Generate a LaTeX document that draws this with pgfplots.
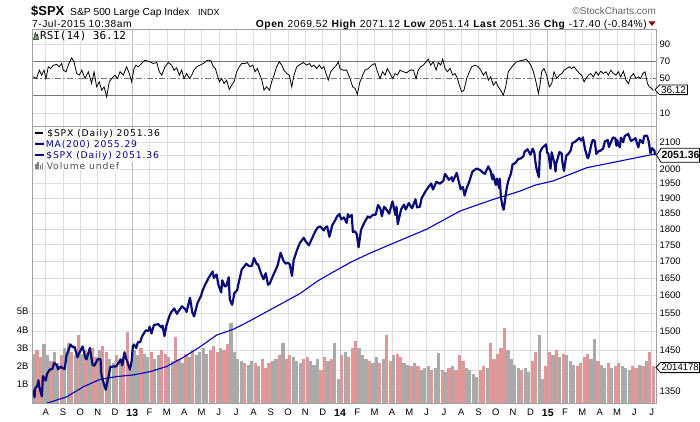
\documentclass[border=0pt]{standalone}
\usepackage{fontspec}
\setmainfont{Liberation Sans}
\newfontfamily\hdrfont[LetterSpace=5]{Liberation Sans}
\newfontfamily\legfont[LetterSpace=9]{DejaVu Sans}
\newfontfamily\monofont{DejaVu Sans Mono}
\usepackage{pgfplots}
\pgfplotsset{compat=1.18}

\definecolor{navyline}{RGB}{12,12,120}
\definecolor{mablue}{RGB}{0,0,190}
\definecolor{volgray}{RGB}{170,170,170}
\definecolor{volpink}{RGB}{222,152,152}
\definecolor{gridgray}{RGB}{222,222,222}
\definecolor{yeargray}{RGB}{190,190,190}
\definecolor{framegray}{RGB}{160,160,160}
\definecolor{refline}{RGB}{120,120,120}
\definecolor{chgred}{RGB}{150,0,20}
\definecolor{iconGreen}{RGB}{110,170,110}
\definecolor{legnavy}{RGB}{0,0,140}

\pgfplotsset{
  base/.style={scale only axis, width=624bp, xmin=-5.794, xmax=30.254,
    anchor=south west, axis line style={draw=framegray, line width=0.8bp},
    major tick length=0pt, tick label style={font=\fontsize{9.5}{10}\selectfont, text=black}},
  months/.style={xtick={-5,...,30},
    xticklabels={A,S,O,N,D,\textbf{\fontsize{10.5}{11}\selectfont 13},F,M,A,M,J,J,A,S,O,N,D,\textbf{\fontsize{10.5}{11}\selectfont 14},F,M,A,M,J,J,A,S,O,N,D,\textbf{\fontsize{10.5}{11}\selectfont 15},F,M,A,M,J,J},
    extra x ticks={0,12,24}, extra x tick labels={},
    extra x tick style={grid=major, major grid style={draw=yeargray, line width=0.9bp}}},
}

\begin{document}
\begin{tikzpicture}[x=1bp,y=1bp]
\useasboundingbox (0,0) rectangle (700,421);

% price panel: grid and right labels
\begin{axis}[base, months, at={(32bp,18bp)}, height=277bp, ymode=log, ymin=1321.6, ymax=2160.5,
  ytick={1350,1400,1450,1500,1550,1600,1650,1700,1750,1800,1850,1900,1950,2000,2050,2100},
  yticklabels={1350,,1450,1500,1550,1600,1650,1700,1750,1800,1850,1900,1950,2000,,2100},
  yticklabel pos=right, grid=major, major grid style={draw=gridgray, line width=0.6bp},
  xticklabel style={yshift=-2.5bp}]
\addplot[draw=none] coordinates {(0,1500)};
\end{axis}

% volume
\begin{axis}[base, at={(32bp,18bp)}, height=277bp, ymin=0, ymax=15.14,
  axis line style={draw=none}, xtick=\empty, ytick={1,2,3,4,5},
  yticklabels={1B,2B,3B,4B,5B}, yticklabel pos=left]
\addplot[ycomb, draw=volgray, line width=3.2bp] coordinates {
(-5.7,2.7) (-5.1,3.2) (-4.9,2.6) (-4.5,2.8) (-4.3,2.2) (-3.9,3.0) (-3.7,3.3) (-3.3,2.6) (-2.9,2.7) (-2.5,2.6)
(-1.9,2.9) (-1.3,2.4) (-1.1,2.2) (-0.7,2.3) (-0.1,1.8) (0.1,2.9) (0.3,2.6) (0.7,2.7) (0.9,2.5) (1.3,2.4)
(1.5,2.6) (2.1,2.5) (2.3,2.3) (2.7,2.4) (2.9,2.2) (3.3,2.5) (3.7,2.6) (3.9,2.8) (4.1,3.0) (4.3,2.7)
(5.1,3.0) (5.7,4.35) (5.9,2.8) (6.1,2.4) (6.3,2.3) (6.7,2.1) (6.9,2.3) (7.3,2.0) (8.1,2.3) (8.3,2.4)
(8.7,3.3) (9.3,2.5) (9.5,2.3) (9.7,2.2) (10.3,2.3) (10.5,2.1) (10.7,2.4) (11.3,2.3) (11.7,3.3) (11.9,1.3)
(12.3,2.8) (13.1,3.0) (13.3,2.6) (13.5,2.4) (13.9,2.2) (14.1,2.5) (14.5,2.4) (15.1,2.6) (15.7,2.2) (15.9,2.1)
(16.3,2.2) (16.7,1.8) (16.9,1.9) (17.1,2.0) (17.5,1.9) (17.7,2.75) (18.1,1.7) (18.5,2.0) (19.3,1.9) (19.5,1.8)
(19.7,1.6) (19.9,1.4) (20.5,1.9) (21.7,2.9) (21.9,2.4) (22.1,2.1) (22.3,1.9) (22.7,1.9) (22.9,1.7) (23.5,3.7)
(23.7,1.3) (24.3,2.6) (24.7,2.5) (25.1,2.6) (25.3,2.3) (25.5,2.1) (26.5,2.4) (26.7,3.5) (27.1,2.1) (27.3,1.9)
(27.7,1.9) (28.3,2.0) (28.5,1.9) (28.7,1.8) (29.3,2.1) (29.7,2.3)};
\addplot[ycomb, draw=volpink, line width=3.2bp] coordinates {
(-5.5,2.9) (-5.3,2.5) (-4.7,2.3) (-4.1,2.6) (-3.5,2.8) (-3.1,3.7) (-2.7,2.9) (-2.3,3.0) (-2.1,2.5) (-1.7,3.1)
(-1.5,2.8) (-0.9,2.6) (-0.5,2.5) (-0.3,3.9) (0.5,3.0) (1.1,2.8) (1.7,2.9) (1.9,2.7) (2.5,3.6) (3.1,2.7)
(3.5,2.9) (4.5,2.9) (4.7,3.1) (4.9,2.8) (5.3,2.9) (5.5,3.2) (6.5,2.2) (7.1,2.2) (7.5,2.4) (7.7,1.9)
(7.9,2.2) (8.5,2.6) (8.9,2.4) (9.1,2.6) (9.9,2.4) (10.1,2.5) (10.9,1.8) (11.1,2.5) (11.5,2.4) (12.1,2.6)
(12.5,2.5) (12.7,3.0) (12.9,3.4) (13.7,2.3) (14.3,2.2) (14.7,3.7) (14.9,2.3) (15.3,2.7) (15.5,2.5) (16.1,2.0)
(16.5,2.0) (17.3,1.8) (17.9,1.8) (18.3,1.9) (18.7,1.8) (18.9,2.6) (19.1,2.3) (20.1,1.8) (20.3,2.0) (20.7,3.3)
(20.9,2.4) (21.1,2.7) (21.3,3.0) (21.5,4.1) (22.5,1.8) (23.1,2.3) (23.3,2.8) (23.9,2.0) (24.1,2.8) (24.5,2.9)
(24.9,2.7) (25.7,2.0) (25.9,2.2) (26.1,2.5) (26.3,2.7) (26.9,2.3) (27.5,2.2) (27.9,2.0) (28.1,2.2) (28.9,2.0)
(29.1,1.9) (29.5,2.0) (29.9,2.8) (30.1,2.0)};
\end{axis}

% price and moving average
\begin{axis}[base, at={(32bp,18bp)}, height=277bp, ymode=log, ymin=1321.6, ymax=2160.5, hide axis]
\addplot[mablue, line width=1.1bp] coordinates {
(-5.0,1318) (-4.945,1321) (-3.79,1336) (-2.83,1360) (-1.87,1378) (-0.90,1385) (0.06,1389) (1.02,1397)
(1.99,1410) (2.95,1433) (3.91,1460) (4.88,1491) (5.83,1506) (6.80,1529) (7.76,1554) (8.72,1579)
(9.69,1605) (10.65,1639) (11.32,1659) (12.67,1698) (13.73,1724) (14.70,1746) (17.01,1799) (18.93,1858)
(20.86,1897) (21.82,1914) (22.40,1925) (23.26,1945) (24.32,1960) (26.25,2006) (28.17,2030) (29.91,2052)
(30.194,2055.29)};
\addplot[navyline, line width=2.2bp, line join=round] coordinates {
(-5.742,1352) (-5.645,1335) (-5.613,1356) (-5.484,1363) (-5.419,1376) (-5.387,1362) (-5.226,1337) (-5.161,1386)
(-5.0,1375) (-4.935,1391) (-4.774,1402) (-4.613,1404) (-4.516,1419) (-4.355,1413) (-4.290,1403) (-4.129,1410)
(-4.032,1406) (-3.9,1404) (-3.8,1438) (-3.567,1466) (-3.433,1459) (-3.333,1460) (-3.167,1433) (-3.1,1441)
(-2.871,1461) (-2.71,1432) (-2.645,1428) (-2.452,1457) (-2.29,1413) (-2.194,1412) (-2.0,1428) (-1.833,1428)
(-1.8,1395) (-1.733,1380) (-1.533,1353) (-1.367,1387) (-1.267,1409) (-1.1,1410) (-0.935,1410) (-0.806,1418)
(-0.677,1428) (-0.581,1413) (-0.452,1446) (-0.355,1430) (-0.129,1402) (-0.032,1426)
(0.032,1462) (0.097,1466) (0.226,1457) (0.323,1472) (0.452,1472) (0.548,1486) (0.774,1503) (0.935,1502)
(1.0,1513) (1.107,1495) (1.25,1518) (1.5,1520) (1.679,1511) (1.75,1516) (1.857,1488) (1.964,1515)
(2.129,1540) (2.226,1551) (2.419,1563) (2.581,1548) (2.677,1556) (2.871,1569) (3.1,1559) (3.133,1553)
(3.333,1593) (3.467,1552) (3.567,1541) (3.767,1578) (3.967,1598) (4.065,1614) (4.226,1632) (4.419,1651)
(4.645,1669) (4.710,1650) (4.871,1660) (4.968,1631) (5.133,1608) (5.2,1643) (5.333,1626) (5.433,1626)
(5.567,1652) (5.633,1588) (5.767,1573) (5.9,1606) (6.065,1615) (6.129,1632) (6.323,1675) (6.452,1683)
(6.581,1692) (6.742,1685) (6.903,1685) (7.032,1709) (7.194,1690) (7.258,1691) (7.452,1661) (7.581,1646)
(7.710,1664) (7.839,1630) (7.935,1633) (8.1,1653) (8.267,1672) (8.4,1688) (8.567,1725) (8.733,1701)
(8.867,1692) (9.0,1695) (9.097,1690) (9.226,1656) (9.323,1703) (9.516,1734) (9.677,1755) (9.903,1772)
(10.0,1762) (10.2,1748) (10.367,1768) (10.567,1792) (10.7,1804) (10.867,1808) (11.065,1795) (11.161,1805)
(11.258,1808) (11.387,1775) (11.548,1811) (11.710,1827) (11.839,1841) (11.968,1848)
(12.065,1831) (12.226,1837) (12.387,1819) (12.452,1848) (12.516,1838) (12.677,1845) (12.742,1790) (12.871,1792)
(12.968,1783) (13.071,1742) (13.214,1797) (13.393,1819) (13.607,1840) (13.714,1836) (13.893,1845) (14.065,1846)
(14.194,1878) (14.323,1867) (14.419,1841) (14.548,1872) (14.645,1866) (14.839,1849) (15.033,1890) (15.2,1845)
(15.267,1872) (15.333,1815) (15.533,1864) (15.7,1879) (15.8,1863) (15.967,1884) (16.161,1867) (16.355,1897)
(16.452,1870) (16.613,1872) (16.71,1900) (16.935,1924) (17.133,1941) (17.267,1951) (17.367,1930) (17.567,1957)
(17.767,1950) (17.967,1960) (18.065,1985) (18.29,1964) (18.452,1973) (18.516,1958) (18.742,1988) (18.968,1931)
(19.097,1939) (19.194,1910) (19.323,1936) (19.452,1955) (19.645,1992) (19.806,2000) (19.903,2003) (20.1,1998)
(20.267,1988) (20.367,1985) (20.567,2011) (20.7,1994) (20.8,1966) (20.833,1983) (21.0,1946) (21.065,1968)
(21.194,1935) (21.226,1968) (21.29,1906) (21.387,1874) (21.452,1862) (21.516,1887) (21.645,1941) (21.742,1964)
(21.871,1985) (21.968,2018) (22.133,2023) (22.3,2038) (22.433,2039) (22.6,2048) (22.667,2064) (22.833,2073)
(23.0,2053) (23.129,2075) (23.226,2060) (23.29,2026) (23.355,2002) (23.484,1973) (23.516,2012) (23.548,2061)
(23.677,2078) (23.903,2091) (23.968,2059)
(24.032,2058) (24.161,2003) (24.226,2062) (24.387,2023) (24.452,1993) (24.484,2019) (24.677,2063) (24.806,2057)
(24.839,2029) (24.935,1995) (25.071,2050) (25.179,2055) (25.321,2068) (25.429,2097) (25.571,2100) (25.821,2115)
(25.929,2105) (26.032,2117) (26.161,2071) (26.29,2044) (26.323,2040) (26.387,2053) (26.548,2099) (26.613,2108)
(26.710,2104) (26.806,2056) (26.968,2068) (27.033,2067) (27.2,2076) (27.3,2102) (27.467,2107) (27.533,2081)
(27.767,2117) (27.9,2114) (27.967,2086) (28.0,2108) (28.161,2080) (28.226,2116) (28.355,2099) (28.452,2123)
(28.581,2127) (28.645,2131) (28.806,2104) (28.903,2107) (29.067,2114) (29.233,2080) (29.333,2108) (29.5,2096)
(29.567,2122) (29.733,2124) (29.833,2102) (29.933,2058) (30.032,2077) (30.161,2068) (30.194,2051.36)};
\end{axis}

% RSI panel
\begin{axis}[base, months, at={(32bp,295bp)}, height=96.3bp, ymin=-5.2, ymax=106.7,
  xticklabels={}, ytick={10,30,50,70,90}, yticklabels={10,,50,70,90}, yticklabel pos=right,
  xmajorgrids, major grid style={draw=gridgray, line width=0.6bp}]
\addplot[gridgray, line width=0.6bp] coordinates {(-5.794,10) (30.254,10)};
\addplot[gridgray, line width=0.6bp] coordinates {(-5.794,90) (30.254,90)};
\addplot[refline, line width=0.9bp] coordinates {(-5.794,70) (30.254,70)};
\addplot[refline, line width=0.9bp] coordinates {(-5.794,30) (30.254,30)};
\addplot[refline, line width=0.7bp, dash pattern=on 6bp off 2bp on 1.5bp off 2bp] coordinates {(-5.794,50) (30.254,50)};
\addplot[black, line width=0.8bp] coordinates {
(-5.72,51.9) (-5.53,50.0) (-5.37,59.7) (-5.24,53.9) (-5.10,59.7) (-4.99,50.0) (-4.85,63.6) (-4.72,61.6)
(-4.56,65.5) (-4.37,66.3) (-4.22,63.6) (-4.08,67.4) (-3.99,59.7) (-3.83,57.8) (-3.70,65.5) (-3.50,74.0)
(-3.37,69.4) (-3.21,55.8) (-3.06,53.9) (-2.92,59.7) (-2.73,50.0) (-2.54,57.8) (-2.35,44.2) (-2.21,57.8)
(-2.06,40.3) (-1.91,46.1) (-1.77,36.4) (-1.63,40.3) (-1.48,28.7) (-1.33,46.1) (-1.19,50.0) (-1.00,53.9)
(-0.86,50.0) (-0.71,57.8) (-0.52,53.9) (-0.33,63.6) (-0.17,55.8) (-0.04,46.1) (0.10,61.6) (0.21,65.5)
(0.35,63.6) (0.54,67.4) (0.73,71.3) (0.87,70.2) (1.02,69.4) (1.21,67.4) (1.41,68.6) (1.56,57.8)
(1.70,53.9) (1.89,63.6) (2.08,68.6) (2.27,65.5) (2.41,59.7) (2.56,62.4) (2.72,53.9) (2.85,59.7)
(2.99,50.0) (3.14,55.8) (3.30,50.0) (3.43,53.9) (3.56,59.7) (3.72,63.6) (3.91,65.5) (4.10,67.4)
(4.26,70.2) (4.39,71.3) (4.55,70.5) (4.68,63.6) (4.80,61.6) (4.91,53.9) (5.03,46.1) (5.16,50.0)
(5.30,44.2) (5.45,48.1) (5.60,37.2) (5.74,42.2) (5.88,46.1) (6.03,57.8) (6.18,63.6) (6.32,67.4)
(6.51,67.4) (6.65,68.6) (6.80,63.6) (6.96,65.5) (7.09,57.8) (7.22,61.6) (7.38,53.9) (7.51,46.1)
(7.61,36.4) (7.76,40.3) (7.92,36.4) (8.05,46.1) (8.19,53.9) (8.34,63.6) (8.49,69.4) (8.63,65.5)
(8.76,59.7) (8.92,55.8) (9.07,53.9) (9.21,40.3) (9.34,53.9) (9.50,63.6) (9.69,66.3) (9.88,68.6)
(10.07,65.5) (10.23,67.4) (10.36,63.6) (10.50,65.5) (10.65,61.6) (10.81,65.5) (10.94,61.6) (11.07,63.6)
(11.19,55.8) (11.32,48.1) (11.46,57.8) (11.61,61.6) (11.77,64.7) (11.90,69.4)
(12.00,61.6) (12.19,59.7) (12.38,59.7) (12.58,50.0) (12.73,40.3) (12.87,38.4) (13.00,31.4) (13.15,46.1)
(13.31,53.9) (13.44,59.7) (13.64,61.6) (13.83,65.5) (14.02,67.4) (14.16,57.8) (14.31,50.0) (14.46,57.8)
(14.60,53.9) (14.73,61.6) (14.89,55.8) (15.04,50.0) (15.18,55.8) (15.31,53.9) (15.47,59.7) (15.66,57.8)
(15.85,56.6) (16.04,59.7) (16.24,59.7) (16.39,50.0) (16.52,59.7) (16.66,63.6) (16.81,65.5) (16.97,69.4)
(17.10,72.5) (17.24,65.5) (17.39,69.4) (17.55,59.7) (17.68,68.6) (17.82,65.5) (17.93,72.5) (18.07,61.6)
(18.20,57.8) (18.36,61.6) (18.51,53.9) (18.64,55.8) (18.78,50.0) (18.89,42.2) (19.03,34.5) (19.16,36.4)
(19.32,50.0) (19.47,57.8) (19.61,63.6) (19.80,65.5) (19.99,63.6) (20.13,59.7) (20.28,53.9) (20.43,57.8)
(20.57,48.1) (20.70,51.9) (20.86,42.2) (21.01,46.1) (21.14,40.3) (21.28,36.4) (21.43,30.6) (21.57,40.3)
(21.72,57.8) (21.86,61.6) (22.01,65.5) (22.20,69.4) (22.40,70.5) (22.59,71.3) (22.75,72.5) (22.88,69.4)
(23.02,65.5) (23.17,57.8) (23.32,46.1) (23.46,32.6) (23.55,42.2) (23.65,57.8) (23.78,61.6) (23.94,53.9)
(24.09,40.3) (24.23,44.2) (24.36,57.8) (24.52,50.0) (24.67,53.9) (24.81,55.8) (24.94,59.7) (25.09,61.6)
(25.25,63.6) (25.38,61.6) (25.52,63.6) (25.67,59.7) (25.83,55.8) (25.96,53.9) (26.10,46.1) (26.21,50.0)
(26.35,53.9) (26.48,55.8) (26.64,51.9) (26.79,57.8) (26.92,53.9) (27.06,58.5) (27.21,55.8) (27.37,57.8)
(27.50,53.9) (27.64,59.7) (27.79,55.8) (27.94,53.9) (28.08,57.8) (28.21,51.9) (28.37,58.5) (28.52,48.1)
(28.66,44.2) (28.79,51.9) (28.95,55.8) (29.10,50.0) (29.23,51.9) (29.37,50.0) (29.49,55.8) (29.62,57.8)
(29.76,44.2) (29.87,40.3) (30.01,38.4) (30.10,36.12)};
\end{axis}

% frames
\draw[framegray, line width=0.8bp] (32,18) rectangle (656,295);
\draw[framegray, line width=0.8bp] (32,295) rectangle (656,391.3);

% header
\node[anchor=base west, inner sep=0] at (31,405) {\fontsize{13}{14}\selectfont\bfseries \$SPX};
\node[anchor=base west, inner sep=0] at (70,405) {\fontsize{10.3}{12}\selectfont S\&P 500 Large Cap Index};
\node[anchor=base west, inner sep=0] at (198,405) {\fontsize{9}{10}\selectfont INDX};
\node[anchor=base west, inner sep=0] at (32,393.7) {\hdrfont\fontsize{10.3}{12}\selectfont 7-Jul-2015 10:38am};
\node[anchor=base east, inner sep=0] at (647,393.7) {\hdrfont\fontsize{10.3}{12}\selectfont \textbf{Open} 2069.52 \textbf{High} 2071.12 \textbf{Low} 2051.14 \textbf{Last} 2051.36 \textbf{Chg} -17.40 (-0.84\%)};
\fill[chgred] (648.5,399.5) -- (655.5,399.5) -- (652,395) -- cycle;
\node[anchor=base east, inner sep=0, text={rgb,255:red,100;green,100;blue,100}] at (656,406) {\fontsize{10}{12}\selectfont \textcopyright StockCharts.com};

% RSI label
\filldraw[fill=iconGreen, draw=black, line width=0.4bp] (33.5,381.7) -- (35.3,388.7) -- (36.6,385.2) -- (37.4,386.8) -- (38.6,381.7) -- cycle;
\node[anchor=base west, inner sep=0.5bp, fill=white] at (39.5,381.5) {\monofont\fontsize{11}{12}\selectfont RSI(14) 36.12};

% legend
\draw[black, line width=2bp] (35,287.7) -- (43.3,287.7);
\node[anchor=base west, inner sep=0.6bp, fill=white] at (46.5,284.3) {\legfont\fontsize{9.3}{10}\selectfont \$SPX (Daily) 2051.36};
\draw[legnavy, line width=1.8bp] (35,277) -- (44,277);
\node[anchor=base west, inner sep=0.6bp, fill=white, text=legnavy] at (45,273.3) {\legfont\fontsize{9.3}{10}\selectfont MA(200) 2055.29};
\draw[legnavy, line width=1.8bp] (35,266) -- (44,266);
\node[anchor=base west, inner sep=0.6bp, fill=white, text=legnavy] at (45.5,262.7) {\legfont\fontsize{9.3}{10}\selectfont \$SPX (Daily) 2051.36};
\fill[gray] (35,252) rectangle (36.6,257.5);
\fill[gray] (37.4,252) rectangle (39,259);
\fill[gray] (39.8,252) rectangle (41.4,256.5);
\fill[gray] (42,252) rectangle (43.3,258);
\node[anchor=base west, inner sep=0.6bp, fill=white, text={rgb,255:red,80;green,80;blue,80}] at (46,252) {\legfont\fontsize{9.3}{10}\selectfont Volume undef};

% value boxes
\filldraw[fill=white, draw=black, line width=0.8bp] (656.5,265.8) -- (661,272.8) -- (699.6,272.8) -- (699.6,258.8) -- (661,258.8) -- cycle;
\node[inner sep=0] at (680.5,265.8) {\fontsize{10.5}{12}\selectfont\bfseries 2051.36};
\filldraw[fill=white, draw=black, line width=0.8bp] (655,331.2) -- (659.5,336) -- (687.5,336) -- (687.5,326.4) -- (659.5,326.4) -- cycle;
\node[inner sep=0] at (673.5,331.2) {\fontsize{10}{12}\selectfont 36.12};
\filldraw[fill=white, draw=black, line width=0.8bp] (656,53.5) -- (660.5,58.6) -- (699.6,58.6) -- (699.6,48.4) -- (660.5,48.4) -- cycle;
\node[inner sep=0] at (680.2,53.5) {\fontsize{9.6}{11}\selectfont 2014178};
\end{tikzpicture}
\end{document}
